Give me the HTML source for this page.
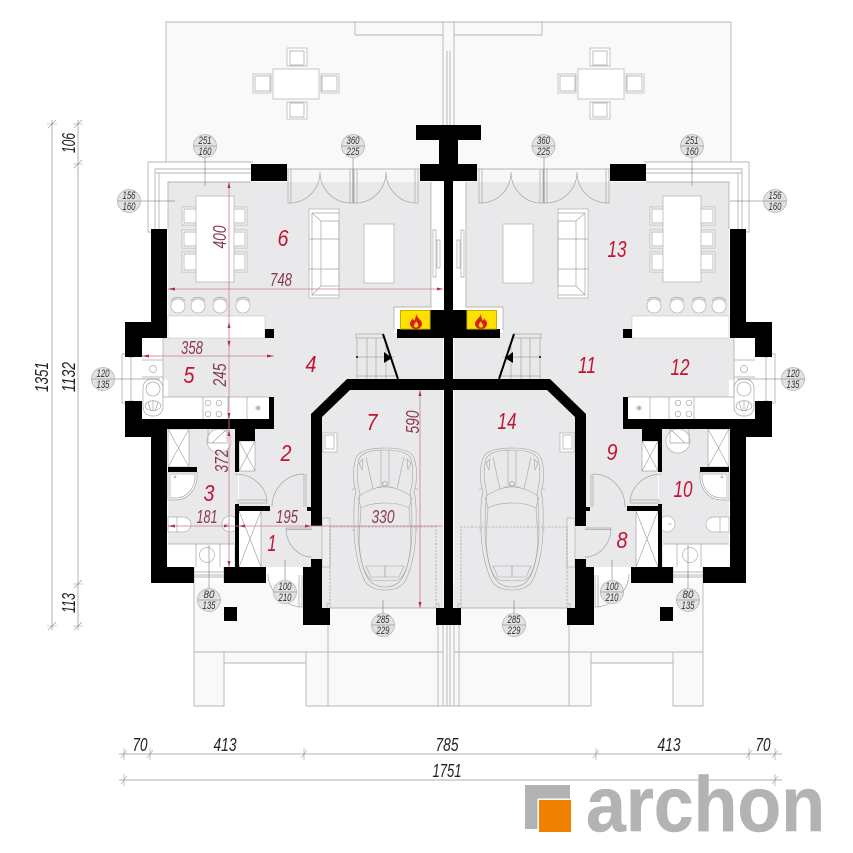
<!DOCTYPE html>
<html><head><meta charset="utf-8"><style>
html,body{margin:0;padding:0;background:#fff}
svg{display:block}
text{font-family:"Liberation Sans Narrow","Liberation Sans",sans-serif;font-style:italic}
.r{font-size:23px;fill:#c4122f;text-anchor:middle;font-family:"Liberation Sans",sans-serif}
.d{font-size:18px;fill:#8a3a4c;text-anchor:middle;font-family:"Liberation Sans",sans-serif}
.k{font-size:18px;fill:#222;text-anchor:middle;font-family:"Liberation Sans",sans-serif}
.c{font-size:11px;fill:#333;text-anchor:middle;font-family:"Liberation Sans",sans-serif}
.l{fill:none;stroke:#b5b5b5;stroke-width:.9}
.t{fill:none;stroke:#a5a5a5;stroke-width:.7}
.w{fill:#fff;stroke:#b0b0b0;stroke-width:.7}
.cl{fill:#e2e2e2;stroke:#b5b5b5;stroke-width:.8}
.rd{stroke:#c77f8e;stroke-width:.8;fill:none}
</style></head><body>
<svg width="853" height="853" viewBox="0 0 853 853" xmlns="http://www.w3.org/2000/svg">
<rect width="853" height="853" fill="#fff"/>
<defs>
<g id="ch" fill="none" stroke="#a5a5a5" stroke-width=".6">
<path d="M385 448C371 448 359 450 356 458C352 470 353 482 356 492C353 502 354 520 354 532C355 555 360 573 366 583C372 589 378 590 385 590"/>
<path d="M385 450C373 450 362 452 359 459C356 470 357 482 360 494C358 505 358 525 358 535C359 555 363 572 369 580C374 586 380 587 385 587"/>
<path d="M366 457L373 489L385 485M359 496C368 490 376 487 385 487M358 497L361 508C368 504 376 503 385 503M361 508L359 540C360 560 364 576 372 580L385 581"/>
<path d="M366 566H385V577H371Z"/>
<path d="M359 463L363 459L362 470Z"/>
<path d="M381 450V485"/>
<circle cx="385" cy="484" r="2.5"/>
<path d="M352 490L355 488M355 530L352 530"/>
</g>
<g id="h">
<!-- terrace -->
<rect x="166" y="22" width="283" height="147" fill="#f9f9f9"/>
<rect x="287" y="169" width="162" height="13" fill="#f7f7f7"/>
<path class="l" d="M166 163V22H449M355 22V35H443M443 22V125M447 51V125"/>
<!-- front -->
<path d="M194 583H449V706H306V663H224V706H194Z" fill="#f9f9f9"/>
<path class="l" d="M194 583V706H224V652M224 663H306M306 706V652M306 706H449M194 652H443M328 652V706M328 625V652M438 625V706M443 625V706M447 625V706"/>
<!-- terrace furniture -->
<g class="w">
<rect x="273" y="69" width="46" height="30"/>
<rect x="287" y="48" width="20" height="18"/>
<rect x="287" y="102" width="20" height="17"/>
<rect x="253" y="74" width="18" height="19"/>
<rect x="321" y="74" width="18" height="19"/>
</g>
<path class="t" d="M290 51H304V65H290ZM290 103H304V117H290ZM255 76H270V91H255ZM322 76H337V91H322Z"/>
<!-- floors -->
<g fill="#e9e9eb">
<rect x="168" y="182" width="275" height="156"/>
<rect x="163" y="338" width="280" height="42"/>
<rect x="168" y="338" width="150" height="60"/>
<rect x="239" y="380" width="110" height="187"/>
<rect x="168" y="429" width="70" height="138"/>
<path d="M322 417L350 390H443V608H322Z"/>
</g>
<rect x="431" y="182" width="13" height="125" fill="#fff"/>
<rect x="394" y="307" width="50" height="26" fill="#fff"/>
<path class="l" d="M431 182V307H394V330"/>
<!-- window frame -->
<rect x="148" y="162" width="105" height="20" fill="#fff"/>
<rect x="148" y="162" width="20" height="70" fill="#fff"/>
<path class="l" d="M253 162H148V232H152M155 232V169H253M159 232V173H253M155 173H159M168 229V182H251"/>
<!-- doors -->
<path class="l" d="M287 169H420M288 169V203H291V169M350 169V203H353V169M354 169V203H357V169M415 169V203H418V169"/>
<path class="t" d="M291 203C308 202 320 188 320 172C320 188 332 202 350 203M357 203C374 202 386 188 386 172C386 188 398 202 415 203"/>
<!-- table -->
<g class="w">
<rect x="182" y="207" width="15" height="18"/><rect x="182" y="230" width="15" height="18"/><rect x="182" y="252" width="15" height="20"/>
<rect x="233" y="207" width="14" height="18"/><rect x="233" y="230" width="14" height="18"/><rect x="233" y="252" width="14" height="20"/>
<rect x="196" y="196" width="38" height="86"/>
</g>
<path class="t" d="M184 209H196M184 223H196M184 209V223M184 232H196M184 246H196M184 232V246M184 254H196M184 270H196M184 254V270M234 209H245V223H234M234 232H245V246H234M234 254H245V270H234"/>
<!-- sofa / coffee table / tv -->
<rect class="w" x="309" y="209" width="30" height="89"/>
<path class="t" d="M312 213H339M312 213V295H339M321 221H339V286H321ZM312 213L321 221M312 295L321 286M309 239H339M309 269H339M321 239V269"/>
<rect class="w" x="364" y="224" width="30" height="59"/>
<path class="t" fill="#fff" d="M433 230H436V277H433ZM437 240H440V268H437Z"/>
<!-- stools -->
<g class="w">
<circle cx="178" cy="306" r="7"/><circle cx="198" cy="306" r="7"/><circle cx="220" cy="306" r="7"/><circle cx="243" cy="306" r="7"/>
</g>
<path class="t" d="M171 301C174 296 182 296 185 301M191 301C194 296 202 296 205 301M213 301C216 296 224 296 227 301M236 301C239 296 247 296 250 301"/>
<rect x="168" y="316" width="97" height="22" fill="#fff" stroke="#c5c5c5" stroke-width=".6"/>
<!-- kitchen -->
<rect x="142" y="338" width="21" height="81" fill="#fff"/>
<rect x="142" y="397" width="127" height="22" fill="#fff"/>
<path class="t" d="M163 338V397H269M142 360H163M142 377H163M203 397V419M228 397V419M247 397V419"/>
<circle class="t" cx="153" cy="369" r="3.500"/>
<rect class="t" x="143" y="379" width="20" height="37" rx="9"/>
<circle class="t" cx="153" cy="389" r="7"/>
<path class="t" d="M145 406C146 399 160 399 161 406C160 412 146 412 145 406ZM153 400V411M148 402L151 411M158 402L155 411"/>
<g class="t"><circle cx="208" cy="403" r="2.800"/><circle cx="219" cy="403" r="2.800"/><circle cx="208" cy="414" r="2.800"/><circle cx="219" cy="414" r="2.800"/></g>
<path class="t" d="M255 408H261M258 405V411M256 406L260 410M260 406L256 410"/>
<!-- kitchen window -->
<rect x="123" y="354" width="19" height="49" fill="#fff"/>
<path class="l" d="M125 354H122V403H125M131 357V401M129 354V357H133V354M129 403V401H133V403"/>
<!-- bath fixtures -->
<rect x="168" y="429" width="21" height="38" fill="#fff"/>
<path class="t" d="M168 429H189V467H168ZM168 429L189 467M189 429L168 467"/>
<path d="M168 472H197V478C196 490 188 500 175 500H168Z" fill="#fff" stroke="#a5a5a5" stroke-width=".7"/>
<path class="t" d="M170 474H195V478C194 489 187 498 175 498H170Z"/><circle class="t" cx="175" cy="477" r="1"/>
<rect x="208" y="429" width="24" height="12" fill="#e9e9eb"/>
<circle class="w" cx="219" cy="441" r="12"/>
<path class="t" d="M208 429V443H227V429M227 429L212 443"/>
<rect x="168" y="544" width="66" height="23" fill="#fff"/>
<path class="t" d="M168 544H234M196 544V567M220 544V567"/>
<circle class="w" cx="207" cy="555" r="7.500"/>
<path class="w" d="M168 517H183C188 517 191 521 191 524.500C191 528 188 532 183 532H168Z"/><path class="t" d="M177 517V532"/>
<circle class="w" cx="230" cy="524" r="8"/><path class="t" d="M225 524H229"/>
<!-- closets -->
<rect x="239" y="441" width="16" height="30" fill="#fff"/>
<path class="t" d="M239 441H255V471H239ZM239 441L255 471M255 441L239 471"/>
<rect x="239" y="511" width="22" height="56" fill="#fff"/>
<path class="t" d="M261 511V567M239 511L261 567M261 511L239 567"/>
<!-- doors interior -->
<path class="t" d="M235 474C254 474 267 488 267 503H238V500H267"/>
<path class="t" d="M304 474C286 474 272 489 272 507M304 474V507M306 474V507"/>
<path class="t" d="M286 528C286 544 298 557 312 557M286 528H312M286 529.500H312"/>
<rect x="322" y="518" width="8" height="49" fill="#eee" stroke="#b0b0b0" stroke-width=".7"/>
<path class="t" d="M268 574C268 590 282 604 299 607M299 575V607H302V575"/>
<!-- bottom windows -->
<path class="l" d="M194 583V567M224 583V567M194 572H224M194 575H224M194 577H224"/>
<!-- garage -->
<path d="M330 608V527H436V608" fill="none" stroke="#888" stroke-width=".6" stroke-dasharray="2 1.500"/>
<path class="l" d="M330 608H436M330 604H327V608M436 604H439V608"/>
<rect class="w" x="323" y="433" width="14" height="19"/><rect class="t" x="325" y="435" width="9" height="14"/>
<use href="#ch"/><use href="#ch" transform="matrix(-1 0 0 1 770 0)"/>
<!-- stairs -->
<path class="t" d="M356 334H383V338H356ZM357 338V379M367 338V379M376 338V379M386 345V379M357 357H394M357 376H397"/>
<circle cx="357" cy="357" r="1" fill="#000"/>
<path d="M383 334L398 379" stroke="#000" stroke-width="2" fill="none"/>
<path d="M384 352L392 358L384 363Z" fill="#000"/>
<!-- walls -->
<g fill="#000">
<rect x="444" y="125" width="5" height="500"/>
<path d="M416 125H449V181H420V164H439V140H416Z"/>
<rect x="251" y="164" width="36" height="17"/>
<path d="M151 229H167V338H142V357H125V322H151Z"/>
<path d="M125 401H142V419H274V397H269V419H274V429H255V441H239V472H235V429H167V567H194V583H151V437H125Z"/>
<rect x="265" y="329" width="9" height="9"/>
<rect x="235" y="504" width="4" height="63"/>
<rect x="235" y="506" width="35" height="5"/>
<rect x="224" y="567" width="42" height="16"/>
<rect x="168" y="467" width="29" height="5"/>
<path d="M347 379H449V390H350L322 417V526H311V414Z"/>
<rect x="307" y="507" width="5" height="4"/>
<path d="M311 559H322V608H330V625H303V567H311Z"/>
<rect x="436" y="608" width="13" height="17"/>
<rect x="430" y="310" width="19" height="19"/>
<rect x="397" y="329" width="52" height="9"/>
<rect x="224" y="607" width="13" height="14"/>
</g>
<!-- fireplace -->
<rect x="400.500" y="310.500" width="29.500" height="18.500" fill="#ffe000" stroke="#c8b000"/>
<path d="M416 314C417 318 422 320 422 324C422 327 419 329 416 329C413 329 410 327 410 324C410 321 412 320 413 318C413 320 414 320 414 321C415 319 416 317 416 314Z" fill="#d8201a"/>
<path d="M416 321C417 323 419 324 418 326C418 328 414 328 414 326C414 324 416 323 416 321Z" fill="#ffe000"/>
<!-- leader lines -->
<path d="M205 157V186M353 157V203M92 379H160M209 588V545M285 580V560M383 614V600" stroke="#666" stroke-width=".5" fill="none"/>
</g>
</defs>
<use href="#h"/>
<use href="#h" transform="matrix(-1 0 0 1 897 0)"/>
<path d="M128 201H175" stroke="#666" stroke-width=".5"/>
<path d="M730 201H775" stroke="#666" stroke-width=".5"/>
<!-- red dimension lines -->
<path class="rd" d="M229 182V567M168 289H443M142 356H274M168 526H443M420 390V608"/>
<path d="M229 182L227.500 188H230.500ZM229 347L227.500 341H230.500ZM229 322L227.500 328H230.500ZM229 419L227.500 413H230.500ZM229 430L227.500 436H230.500ZM229 567L227.500 561H230.500ZM168 289L175 287.500V290.500ZM443 289L437 287.500V290.500ZM142 356L149 354.500V357.500ZM274 356L267 354.500V357.500ZM168 526L175 524.500V527.500ZM239 526L245 524.500V527.500ZM229 526L224 524.500V527.500ZM311 526L305 524.500V527.500ZM420 390L418.500 396H421.500ZM420 608L418.500 602H421.500Z" fill="#a8304a"/>
<!-- circle labels -->
<g>
<circle class="cl" cx="205" cy="146" r="11.500"/><path d="M193.500 146H216.500" stroke="#777" stroke-width=".5"/><text class="c" x="205" y="144" textLength="13" lengthAdjust="spacingAndGlyphs">251</text><text class="c" x="205" y="155" textLength="13" lengthAdjust="spacingAndGlyphs">160</text>
<circle class="cl" cx="353" cy="146" r="11.500"/><path d="M341.500 146H364.500" stroke="#777" stroke-width=".5"/><text class="c" x="353" y="144" textLength="13" lengthAdjust="spacingAndGlyphs">360</text><text class="c" x="353" y="155" textLength="13" lengthAdjust="spacingAndGlyphs">225</text>
<circle class="cl" cx="543.500" cy="146" r="11.500"/><path d="M532 146H555" stroke="#777" stroke-width=".5"/><text class="c" x="543.500" y="144" textLength="13" lengthAdjust="spacingAndGlyphs">360</text><text class="c" x="543.500" y="155" textLength="13" lengthAdjust="spacingAndGlyphs">225</text>
<circle class="cl" cx="692" cy="146" r="11.500"/><path d="M680.500 146H703.500" stroke="#777" stroke-width=".5"/><text class="c" x="692" y="144" textLength="13" lengthAdjust="spacingAndGlyphs">251</text><text class="c" x="692" y="155" textLength="13" lengthAdjust="spacingAndGlyphs">160</text>
<circle class="cl" cx="129" cy="201" r="11.500"/><path d="M117.500 201H140.500" stroke="#777" stroke-width=".5"/><text class="c" x="129" y="199" textLength="13" lengthAdjust="spacingAndGlyphs">156</text><text class="c" x="129" y="210" textLength="13" lengthAdjust="spacingAndGlyphs">160</text>
<circle class="cl" cx="775" cy="201" r="11.500"/><path d="M763.500 201H786.500" stroke="#777" stroke-width=".5"/><text class="c" x="775" y="199" textLength="13" lengthAdjust="spacingAndGlyphs">156</text><text class="c" x="775" y="210" textLength="13" lengthAdjust="spacingAndGlyphs">160</text>
<circle class="cl" cx="103" cy="379" r="11.500"/><path d="M91.500 379H114.500" stroke="#777" stroke-width=".5"/><text class="c" x="103" y="377" textLength="13" lengthAdjust="spacingAndGlyphs">120</text><text class="c" x="103" y="388" textLength="13" lengthAdjust="spacingAndGlyphs">135</text>
<circle class="cl" cx="793" cy="379" r="11.500"/><path d="M781.500 379H804.500" stroke="#777" stroke-width=".5"/><text class="c" x="793" y="377" textLength="13" lengthAdjust="spacingAndGlyphs">120</text><text class="c" x="793" y="388" textLength="13" lengthAdjust="spacingAndGlyphs">135</text>
<circle class="cl" cx="285" cy="592" r="11.500"/><path d="M273.500 592H296.500" stroke="#777" stroke-width=".5"/><text class="c" x="285" y="590" textLength="13" lengthAdjust="spacingAndGlyphs">100</text><text class="c" x="285" y="601" textLength="13" lengthAdjust="spacingAndGlyphs">210</text>
<circle class="cl" cx="612" cy="592" r="11.500"/><path d="M600.500 592H623.500" stroke="#777" stroke-width=".5"/><text class="c" x="612" y="590" textLength="13" lengthAdjust="spacingAndGlyphs">100</text><text class="c" x="612" y="601" textLength="13" lengthAdjust="spacingAndGlyphs">210</text>
<circle class="cl" cx="209" cy="600" r="11.500"/><path d="M197.500 600H220.500" stroke="#777" stroke-width=".5"/><text class="c" x="209" y="598" textLength="11" lengthAdjust="spacingAndGlyphs">80</text><text class="c" x="209" y="609" textLength="13" lengthAdjust="spacingAndGlyphs">135</text>
<circle class="cl" cx="688" cy="600" r="11.500"/><path d="M676.500 600H699.500" stroke="#777" stroke-width=".5"/><text class="c" x="688" y="598" textLength="11" lengthAdjust="spacingAndGlyphs">80</text><text class="c" x="688" y="609" textLength="13" lengthAdjust="spacingAndGlyphs">135</text>
<circle class="cl" cx="383" cy="625" r="11.500"/><path d="M371.500 625H394.500" stroke="#777" stroke-width=".5"/><text class="c" x="383" y="623" textLength="13" lengthAdjust="spacingAndGlyphs">285</text><text class="c" x="383" y="634" textLength="13" lengthAdjust="spacingAndGlyphs">229</text>
<circle class="cl" cx="514" cy="625" r="11.500"/><path d="M502.500 625H525.500" stroke="#777" stroke-width=".5"/><text class="c" x="514" y="623" textLength="13" lengthAdjust="spacingAndGlyphs">285</text><text class="c" x="514" y="634" textLength="13" lengthAdjust="spacingAndGlyphs">229</text>
</g>
<!-- room numbers -->
<g>
<text class="r" x="272" y="551" textLength="9" lengthAdjust="spacingAndGlyphs">1</text>
<text class="r" x="286" y="461" textLength="11" lengthAdjust="spacingAndGlyphs">2</text>
<text class="r" x="209" y="501" textLength="11" lengthAdjust="spacingAndGlyphs">3</text>
<text class="r" x="311" y="372" textLength="11" lengthAdjust="spacingAndGlyphs">4</text>
<text class="r" x="189" y="383" textLength="11" lengthAdjust="spacingAndGlyphs">5</text>
<text class="r" x="283" y="246" textLength="11" lengthAdjust="spacingAndGlyphs">6</text>
<text class="r" x="372" y="430" textLength="11" lengthAdjust="spacingAndGlyphs">7</text>
<text class="r" x="622" y="548" textLength="11" lengthAdjust="spacingAndGlyphs">8</text>
<text class="r" x="612" y="460" textLength="11" lengthAdjust="spacingAndGlyphs">9</text>
<text class="r" x="683" y="497" textLength="19" lengthAdjust="spacingAndGlyphs">10</text>
<text class="r" x="587" y="373" textLength="18" lengthAdjust="spacingAndGlyphs">11</text>
<text class="r" x="680" y="375" textLength="19" lengthAdjust="spacingAndGlyphs">12</text>
<text class="r" x="617" y="257" textLength="19" lengthAdjust="spacingAndGlyphs">13</text>
<text class="r" x="507" y="429" textLength="19" lengthAdjust="spacingAndGlyphs">14</text>
</g>
<!-- red dims -->
<g>
<text class="d" x="281" y="286" textLength="22" lengthAdjust="spacingAndGlyphs">748</text>
<text class="d" x="192" y="354" textLength="22" lengthAdjust="spacingAndGlyphs">358</text>
<text class="d" x="207" y="523" textLength="21" lengthAdjust="spacingAndGlyphs">181</text>
<text class="d" x="287" y="523" textLength="22" lengthAdjust="spacingAndGlyphs">195</text>
<text class="d" x="383" y="523" textLength="23" lengthAdjust="spacingAndGlyphs">330</text>
<text class="d" transform="translate(226 237) rotate(-90)" textLength="23" lengthAdjust="spacingAndGlyphs">400</text>
<text class="d" transform="translate(226 375) rotate(-90)" textLength="23" lengthAdjust="spacingAndGlyphs">245</text>
<text class="d" transform="translate(228 461) rotate(-90)" textLength="23" lengthAdjust="spacingAndGlyphs">372</text>
<text class="d" transform="translate(419 422) rotate(-90)" textLength="23" lengthAdjust="spacingAndGlyphs">590</text>
</g>
<!-- outer dims -->
<path d="M119 754H782M119 780H782M52 120V630M78 120V630" stroke="#b0b0b0" stroke-width="1" fill="none"/>
<path d="M124 748V760M121 758L127 750M150 748V760M147 758L153 750M304 748V760M301 758L307 750M596 748V760M593 758L599 750M749 748V760M746 758L752 750M775 748V760M772 758L778 750M124 774V786M121 784L127 776M775 774V786M772 784L778 776M47 124H57M48 128L56 120M73 124H83M74 128L82 120M73 164H83M74 168L82 160M73 584H83M74 588L82 580M73 626H83M74 630L82 622M47 626H57M48 630L56 622" stroke="#999" stroke-width=".6" fill="none"/>
<g>
<text class="k" x="140" y="751" textLength="15" lengthAdjust="spacingAndGlyphs">70</text>
<text class="k" x="225" y="751" textLength="23" lengthAdjust="spacingAndGlyphs">413</text>
<text class="k" x="447" y="751" textLength="23" lengthAdjust="spacingAndGlyphs">785</text>
<text class="k" x="669" y="751" textLength="23" lengthAdjust="spacingAndGlyphs">413</text>
<text class="k" x="763" y="751" textLength="15" lengthAdjust="spacingAndGlyphs">70</text>
<text class="k" x="447" y="777" textLength="29" lengthAdjust="spacingAndGlyphs">1751</text>
<text class="k" transform="translate(48 377) rotate(-90)" textLength="30" lengthAdjust="spacingAndGlyphs">1351</text>
<text class="k" transform="translate(75 377) rotate(-90)" textLength="30" lengthAdjust="spacingAndGlyphs">1132</text>
<text class="k" transform="translate(75 143) rotate(-90)" textLength="20" lengthAdjust="spacingAndGlyphs">106</text>
<text class="k" transform="translate(75 603) rotate(-90)" textLength="20" lengthAdjust="spacingAndGlyphs">113</text>
</g>
<!-- logo -->
<rect x="525" y="785" width="45" height="44" fill="#b1b3b4"/>
<rect x="537.500" y="798.500" width="35" height="35" fill="#fff"/>
<rect x="539" y="800" width="32" height="32" fill="#f08000"/>
<text x="586" y="831" font-size="78" fill="#b1b3b4" stroke="#b1b3b4" stroke-width=".5" textLength="239" lengthAdjust="spacingAndGlyphs" style="font-family:'Liberation Sans',sans-serif;font-style:normal;font-weight:bold">archon</text>
</svg>
</body></html>
